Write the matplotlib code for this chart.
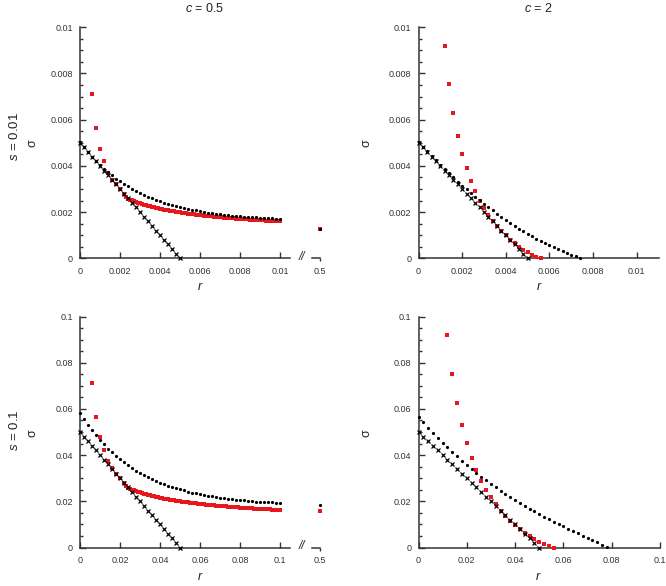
import numpy as np
import matplotlib
matplotlib.use('Agg')
import matplotlib.pyplot as plt
from matplotlib.ticker import MultipleLocator

plt.rcParams['font.family'] = ['Liberation Sans', 'DejaVu Sans']
plt.rcParams['mathtext.fontset'] = 'custom'
plt.rcParams['mathtext.it'] = 'Liberation Sans:italic'
plt.rcParams['mathtext.rm'] = 'Liberation Sans'

W, H = 666, 586
RED = '#e8161d'
INK = '#333333'

# ---- data, top row (s = 0.01) in units of 1e-4 ----
# c = 0.5
r_cross_tl = np.linspace(0, 0.005, 26)
sig_cross_tl = [50, 48, 46, 44, 42, 40, 38, 36, 34, 32, 30, 28, 26, 24, 22, 20,
                18, 16, 14, 12, 10, 8, 6, 4, 2, 0]
r_dot_tl = np.linspace(0, 0.01, 51)
sig_dot_tl = [50.5, 48.2, 46.1, 44.0, 42.2, 40.4, 38.8, 37.3, 35.9, 34.5,
              33.3, 32.2, 31.1, 30.1, 29.1, 28.3, 27.4, 26.7, 26.0, 25.3,
              24.7, 24.1, 23.6, 23.1, 22.6, 22.1, 21.7, 21.4, 21.0, 20.7,
              20.4, 20.1, 19.8, 19.5, 19.3, 19.1, 18.9, 18.7, 18.5, 18.3,
              18.2, 18.0, 17.9, 17.8, 17.7, 17.5, 17.4, 17.3, 17.3, 17.2, 17.1]
r_red_tl_a = np.linspace(0.0006, 0.0022, 9)
sig_red_tl_a = [71, 56.5, 47.5, 42, 37, 34, 32, 30, 28]
r_red_tl_b = np.linspace(0.0023, 0.01, 78)
sig_red_tl_b = [26.5, 25.82, 25.45, 25.09, 24.76, 24.43, 24.13, 23.83, 23.55, 23.29,
                23.03, 22.78, 22.55, 22.32, 22.10, 21.89, 21.69, 21.49, 21.30, 21.12,
                20.95, 20.78, 20.62, 20.46, 20.30, 20.16, 20.01, 19.87, 19.74, 19.61,
                19.48, 19.36, 19.24, 19.12, 19.01, 18.90, 18.79, 18.69, 18.59, 18.49,
                18.39, 18.30, 18.21, 18.12, 18.03, 17.94, 17.86, 17.78, 17.70, 17.62,
                17.55, 17.48, 17.40, 17.33, 17.26, 17.20, 17.13, 17.07, 17.00, 16.94,
                16.88, 16.82, 16.76, 16.70, 16.65, 16.59, 16.54, 16.49, 16.43, 16.38,
                16.33, 16.28, 16.24, 16.19, 16.14, 16.10, 16.05, 16.01]
far_r = 0.5
far_dot_tl = 12.6
far_red_tl = 12.5

# c = 2
r_cross_tr = np.linspace(0, 0.005, 26)
sig_cross_tr = sig_cross_tl
r_dot_tr = np.linspace(0, 0.0074, 38)
sig_dot_tr = [50.4, 48.3, 46.3, 44.3, 42.4, 40.5, 38.6, 36.8, 35.0, 33.2,
              31.5, 29.9, 28.2, 26.6, 25.1, 23.6, 22.1, 20.7, 19.3, 17.9,
              16.6, 15.3, 14.1, 12.9, 11.7, 10.6, 9.6, 8.5, 7.5, 6.6,
              5.6, 4.8, 3.9, 3.1, 2.4, 1.6, 0.95, 0.3]
r_red_tr = np.linspace(0.0012, 0.0056, 23)
sig_red_tr = [92, 75.3, 62.8, 53, 45.2, 39, 33.6, 29, 25, 21.8, 18.8, 16,
              14, 12, 10, 8, 6.5, 5, 3.8, 2.6, 1.6, 0.7, 0]

# ---- data, bottom row (s = 0.1) in units of 1e-3 ----
# c = 0.5
r_cross_bl = np.linspace(0, 0.05, 26)
sig_cross_bl = sig_cross_tl
r_dot_bl = np.linspace(0, 0.1, 51)
sig_dot_bl = [58.2, 55.5, 53.0, 50.7, 48.5, 46.5, 44.6, 42.8, 41.2, 39.6,
              38.2, 36.8, 35.6, 34.4, 33.3, 32.3, 31.3, 30.4, 29.6, 28.8,
              28.1, 27.4, 26.8, 26.2, 25.7, 25.2, 24.7, 24.2, 23.8, 23.4,
              23.1, 22.7, 22.4, 22.1, 21.9, 21.6, 21.4, 21.1, 20.9, 20.7,
              20.5, 20.4, 20.2, 20.1, 19.9, 19.8, 19.7, 19.6, 19.5, 19.4, 19.3]
r_red_bl_a = np.linspace(0.006, 0.022, 9)
sig_red_bl_a = [71.2, 56.6, 47.7, 42.0, 37.6, 34.2, 32.0, 30.0, 28.0]
r_red_bl_b = np.linspace(0.023, 0.1, 78)
sig_red_bl_b = [26.5, 25.82, 25.45, 25.09, 24.76, 24.43, 24.13, 23.83, 23.55, 23.29,
                23.03, 22.78, 22.55, 22.32, 22.10, 21.89, 21.69, 21.49, 21.35, 21.18,
                21.02, 20.86, 20.70, 20.55, 20.40, 20.26, 20.12, 19.98, 19.86, 19.73,
                19.61, 19.50, 19.38, 19.27, 19.17, 19.06, 18.96, 18.87, 18.78, 18.69,
                18.60, 18.51, 18.42, 18.34, 18.25, 18.17, 18.09, 18.01, 17.93, 17.85,
                17.78, 17.71, 17.63, 17.56, 17.49, 17.43, 17.36, 17.30, 17.23, 17.17,
                17.11, 17.05, 16.99, 16.93, 16.88, 16.82, 16.77, 16.72, 16.66, 16.61,
                16.56, 16.51, 16.47, 16.42, 16.37, 16.33, 16.28, 16.24]
far_dot_bl = 18.6
far_red_bl = 15.6

# c = 2
r_cross_br = np.linspace(0, 0.05, 26)
sig_cross_br = sig_cross_tl
r_dot_br = np.linspace(0, 0.078, 40)
sig_dot_br = [56.6, 54.2, 51.9, 49.6, 47.4, 45.3, 43.3, 41.3, 39.4, 37.5,
              35.7, 34.0, 32.3, 30.7, 29.1, 27.6, 26.1, 24.6, 23.2, 21.9,
              20.6, 19.3, 18.0, 16.8, 15.7, 14.5, 13.4, 12.3, 11.2, 10.1,
              9.1, 8.1, 7.1, 6.1, 5.1, 4.1, 3.2, 2.2, 1.2, 0.3]
r_red_br = np.linspace(0.012, 0.056, 23)
sig_red_br = [92.1, 75.1, 62.6, 52.9, 45.1, 38.6, 33.4, 28.9, 25.1, 21.7, 18.9,
              15.9, 13.6, 11.6, 9.6, 7.8, 6.4, 4.9, 3.7, 2.5, 1.6, 0.7, 0.0]

top_ticks = [0, 0.002, 0.004, 0.006, 0.008, 0.01]
top_labels = ['0', '0.002', '0.004', '0.006', '0.008', '0.01']
bot_ticks = [0, 0.02, 0.04, 0.06, 0.08, 0.1]
bot_labels = ['0', '0.02', '0.04', '0.06', '0.08', '0.1']


def px_axes(fig, left, top, right, bottom):
    return fig.add_axes([left / W, 1 - bottom / H, (right - left) / W, (bottom - top) / H])


def style(ax, xmax, ymax, ticks, labels, minor):
    ax.set_xlim(0, xmax)
    ax.set_ylim(0, ymax)
    for side in ['top', 'right']:
        ax.spines[side].set_visible(False)
    for side in ['left', 'bottom']:
        ax.spines[side].set_color(INK)
        ax.spines[side].set_linewidth(1.1)
    ax.set_xticks(ticks, labels)
    ax.set_yticks(ticks, labels)
    ax.yaxis.set_minor_locator(MultipleLocator(minor))
    ax.tick_params(which='both', direction='in', color=INK, width=1.0,
                   labelsize=6.5, labelcolor=INK)
    ax.tick_params(which='major', length=4.5)
    ax.tick_params(which='minor', length=2.5)
    ax.tick_params(axis='x', pad=6)
    ax.tick_params(axis='y', pad=5)
    ax.patch.set_alpha(0)


def far_axes(fig, top, bottom, ymax):
    ax = px_axes(fig, 312, top, 320, bottom)
    ax.set_xlim(0.46, 0.5)
    ax.set_ylim(0, ymax)
    for side in ['top', 'right', 'left']:
        ax.spines[side].set_visible(False)
    ax.spines['bottom'].set_color(INK)
    ax.spines['bottom'].set_linewidth(1.1)
    ax.set_yticks([])
    ax.set_xticks([0.5], ['0.5'])
    ax.tick_params(axis='x', direction='out', length=2.5, color=INK, width=1.0,
                   labelsize=6.5, labelcolor=INK, pad=3.5)
    ax.patch.set_alpha(0)
    return ax


def draw(ax, r_red, s_red, r_dot, s_dot, r_x, s_x, unit):
    for rr, ss in zip(r_red, s_red):
        ax.plot(rr, np.array(ss) * unit, 's', color=RED, ms=2.8, mew=0, clip_on=False, zorder=3)
    ax.plot(r_dot, np.array(s_dot) * unit, 'o', color='black', ms=2.3, mew=0, clip_on=False, zorder=4)
    ax.plot(r_x, np.array(s_x) * unit, 'x', color='black', ms=3.0, mew=0.9, clip_on=False, zorder=5)


fig = plt.figure(figsize=(W / 100, H / 100), dpi=100)

ax_tl = px_axes(fig, 80, 27.3, 290, 258.3)
style(ax_tl, 0.0105, 0.01, top_ticks, top_labels, 0.0005)
draw(ax_tl, [r_red_tl_a, r_red_tl_b], [sig_red_tl_a, sig_red_tl_b],
     r_dot_tl, sig_dot_tl, r_cross_tl, sig_cross_tl, 1e-4)
ax_tl_far = far_axes(fig, 27.3, 258.3, 0.01)
ax_tl_far.plot([far_r], [far_red_tl * 1e-4], 's', color=RED, ms=2.8, mew=0, clip_on=False)
ax_tl_far.plot([far_r], [far_dot_tl * 1e-4], 'o', color='black', ms=2.3, mew=0, clip_on=False)

ax_tr = px_axes(fig, 418.5, 27.3, 658.5, 258.3)
style(ax_tr, 0.011, 0.01, top_ticks, top_labels, 0.0005)
draw(ax_tr, [r_red_tr], [sig_red_tr], r_dot_tr, sig_dot_tr, r_cross_tr, sig_cross_tr, 1e-4)

ax_bl = px_axes(fig, 80, 316.5, 290, 547.5)
style(ax_bl, 0.105, 0.1, bot_ticks, bot_labels, 0.005)
draw(ax_bl, [r_red_bl_a, r_red_bl_b], [sig_red_bl_a, sig_red_bl_b],
     r_dot_bl, sig_dot_bl, r_cross_bl, sig_cross_bl, 1e-3)
ax_bl_far = far_axes(fig, 316.5, 547.5, 0.1)
ax_bl_far.plot([far_r], [far_red_bl * 1e-3], 's', color=RED, ms=2.8, mew=0, clip_on=False)
ax_bl_far.plot([far_r], [far_dot_bl * 1e-3], 'o', color='black', ms=2.3, mew=0, clip_on=False)

ax_br = px_axes(fig, 418.5, 316.5, 660, 547.5)
style(ax_br, 0.1, 0.1, bot_ticks, bot_labels, 0.005)
draw(ax_br, [r_red_br], [sig_red_br], r_dot_br, sig_dot_br, r_cross_br, sig_cross_br, 1e-3)


def ftext(x, y, s, **kw):
    fig.text(x / W, 1 - y / H, s, ha='center', va='center', color='#222222', **kw)


ftext(205, 8, r'$c$ = 0.5', fontsize=9)
ftext(538, 8, r'$c$ = 2', fontsize=9)
ftext(15, 137, r'$s$ = 0.01', fontsize=9.5, rotation=90)
ftext(15, 430, r'$s$ = 0.1', fontsize=9.5, rotation=90)
for x, y in [(32, 143), (367, 143), (32, 433), (367, 433)]:
    ftext(x, y, 'σ', fontsize=9, rotation=90)
for x, y in [(200, 287), (539, 287), (200, 577), (538, 577)]:
    ftext(x, y, r'$r$', fontsize=9)
ftext(302, 257, '//', fontsize=8.5, style='italic')
ftext(302, 546, '//', fontsize=8.5, style='italic')

fig.savefig('out.png', dpi=100)
